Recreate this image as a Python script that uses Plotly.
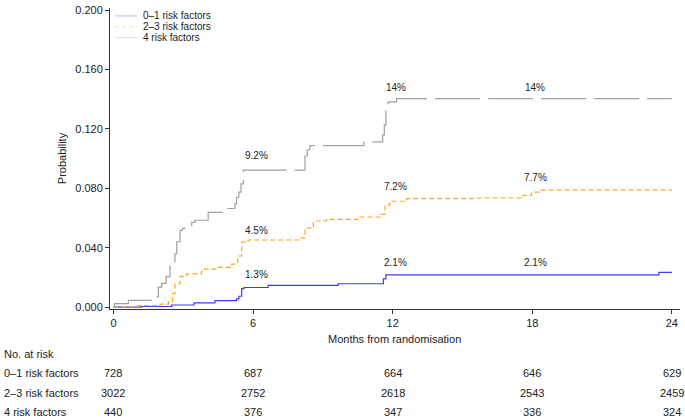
import plotly.graph_objects as go

# ---------------- data ----------------
groups = ["0\u20131 risk factors", "2\u20133 risk factors", "4 risk factors"]

t_low = [0, 1.2, 2.5, 3.46, 4.36, 5.29, 5.39, 5.51, 5.61, 6.65, 9.66, 11.6, 11.71, 23.44, 24]
p_low = [0, 0.0004, 0.0014, 0.0028, 0.0044, 0.0055, 0.0073, 0.0124, 0.0132, 0.0146, 0.0157, 0.019, 0.0217, 0.0234, 0.0234]

t_mid = [0, 1.05, 2.0, 2.36, 2.53, 2.64, 2.86, 3.15, 3.79, 4.5, 5.08, 5.34, 5.51, 5.79, 8.01, 8.23,
         8.59, 9.16, 10.6, 11.45, 11.67, 11.88, 12.6, 15.46, 17.6, 17.97, 18.3, 24]
p_mid = [0, 0.001, 0.002, 0.0035, 0.009, 0.0157, 0.0207, 0.0223, 0.0256, 0.0267, 0.029, 0.0344, 0.0437,
         0.0452, 0.0466, 0.0532, 0.058, 0.0591, 0.0607, 0.0625, 0.0687, 0.0713, 0.073, 0.0735, 0.0753,
         0.0775, 0.0788, 0.0788]

t_high = [0, 0.05, 0.64, 1.7, 1.93, 2.07, 2.26, 2.43, 2.64, 2.72, 2.86, 2.96, 3.36, 3.5, 4.07, 4.72,
          5.22, 5.29, 5.39, 5.48, 5.58, 8.19, 8.23, 8.33, 8.44, 10.76, 11.57, 11.64, 11.71, 11.81, 12.17, 24]
p_high = [0, 0.0023, 0.0045, 0.0068, 0.0134, 0.0159, 0.0205, 0.028, 0.0358, 0.044, 0.0516, 0.053, 0.057,
          0.0585, 0.0638, 0.0664, 0.0697, 0.074, 0.0775, 0.083, 0.0923, 0.0923, 0.1018, 0.106, 0.1088,
          0.1113, 0.116, 0.1227, 0.137, 0.1382, 0.1404, 0.1404]

label_months = [6, 12, 18]
labels_low = ["1.3%", "2.1%", "2.1%"]
labels_mid = ["4.5%", "7.2%", "7.7%"]
labels_high = ["9.2%", "14%", "14%"]
label_y_low = [0.0219, 0.0298, 0.0298]
label_y_mid = [0.0517, 0.0815, 0.0874]
label_y_high = [0.1018, 0.1477, 0.1477]

risk_months = [0, 6, 12, 18, 24]
risk_low = [728, 687, 664, 646, 629]
risk_mid = [3022, 2752, 2618, 2543, 2459]
risk_high = [440, 376, 347, 336, 324]

x_ticks = [0, 6, 12, 18, 24]
y_ticks = [0.0, 0.04, 0.08, 0.12, 0.16, 0.2]

# ---------------- styles ----------------
col_low, col_mid, col_high = "#3c3cff", "#ffa726", "#a0a0a0"
leg_low, leg_mid, leg_high = "#c9c9ff", "#f3e2b0", "#e4e4e4"
FONT = "Liberation Sans, Arial, sans-serif"
TXT = "#222222"

fig = go.Figure()
fig.add_trace(go.Scatter(x=t_low, y=p_low, mode="lines", name=groups[0],
                         line=dict(color=col_low, width=1.2, shape="hv"),
                         showlegend=False, hoverinfo="skip"))
fig.add_trace(go.Scatter(x=t_mid, y=p_mid, mode="lines", name=groups[1],
                         line=dict(color=col_mid, width=1.2, shape="hv", dash="5px,3px"),
                         showlegend=False, hoverinfo="skip"))
fig.add_trace(go.Scatter(x=t_high, y=p_high, mode="lines", name=groups[2],
                         line=dict(color=col_high, width=1.2, shape="hv", dash="45px,8px"),
                         showlegend=False, hoverinfo="skip"))

plot_bottom_px = 309
plot_h = 305
plot_left_px = 110
plot_w = 570


def py(px):
    return (plot_bottom_px - px) / plot_h


def px_(x):
    return (x - plot_left_px) / plot_w


annotations = []
shapes = []

# compact legend (faint swatches, as in the reference)
for i, (name, c, d) in enumerate([(groups[0], leg_low, "solid"), (groups[1], leg_mid, "4px,3px"),
                                   (groups[2], leg_high, "solid")]):
    yy = py(12 + 11 * i)
    shapes.append(dict(type="line", xref="paper", yref="paper", x0=px_(115), x1=px_(137), y0=yy, y1=yy,
                       line=dict(color=c, width=1.2, dash=d)))
    annotations.append(dict(x=px_(141), y=yy, xref="paper", yref="paper", text=name, showarrow=False,
                            xanchor="left", yanchor="middle", font=dict(family=FONT, size=10, color=TXT)))

for lbls, ys in [(labels_low, label_y_low), (labels_mid, label_y_mid), (labels_high, label_y_high)]:
    for m, s, yv in zip(label_months, lbls, ys):
        annotations.append(dict(x=m, y=yv, xref="x", yref="y", text=s, showarrow=False,
                                xanchor="center", yanchor="middle", xshift=3,
                                font=dict(family=FONT, size=10, color=TXT)))

annotations.append(dict(x=12, y=py(339), xref="x", yref="paper", text="Months from randomisation",
                        showarrow=False, xanchor="center", yanchor="middle", xshift=2,
                        font=dict(family=FONT, size=11, color=TXT)))
annotations.append(dict(x=px_(2), y=py(355), xref="paper", yref="paper", text="No. at risk",
                        showarrow=False, xanchor="left", yanchor="middle",
                        font=dict(family=FONT, size=11, color=TXT)))
for row_y, name, vals in [(374, groups[0], risk_low), (394, groups[1], risk_mid), (413, groups[2], risk_high)]:
    annotations.append(dict(x=px_(2), y=py(row_y), xref="paper", yref="paper", text=name,
                            showarrow=False, xanchor="left", yanchor="middle",
                            font=dict(family=FONT, size=11, color=TXT)))
    for m, v in zip(risk_months, vals):
        annotations.append(dict(x=m, y=py(row_y), xref="x", yref="paper", text=str(v),
                                showarrow=False, xanchor="center", yanchor="middle",
                                font=dict(family=FONT, size=11, color=TXT)))

fig.update_layout(
    width=685, height=420,
    margin=dict(l=110, r=5, t=4, b=111),
    paper_bgcolor="white", plot_bgcolor="white",
    font=dict(family=FONT, size=11, color=TXT),
    showlegend=False,
    annotations=annotations,
    shapes=shapes,
    xaxis=dict(range=[-0.15, 24.35], tickvals=x_ticks, ticktext=[str(v) for v in x_ticks],
               showgrid=False, zeroline=False, showline=True, linecolor="#333333", linewidth=1,
               ticks="outside", ticklen=4, tickcolor="#333333", tickfont=dict(size=11, color=TXT)),
    yaxis=dict(range=[-0.0013, 0.2015], tickvals=y_ticks, tickformat=".3f",
               showgrid=False, zeroline=False, showline=True, linecolor="#333333", linewidth=1,
               ticks="outside", ticklen=4, tickcolor="#333333", tickfont=dict(size=11, color=TXT),
               title=dict(text="Probability", standoff=6, font=dict(size=11, color=TXT))),
)

fig.write_html("out.html", config={"displayModeBar": False},
               post_script="document.body.style.margin='0';")
